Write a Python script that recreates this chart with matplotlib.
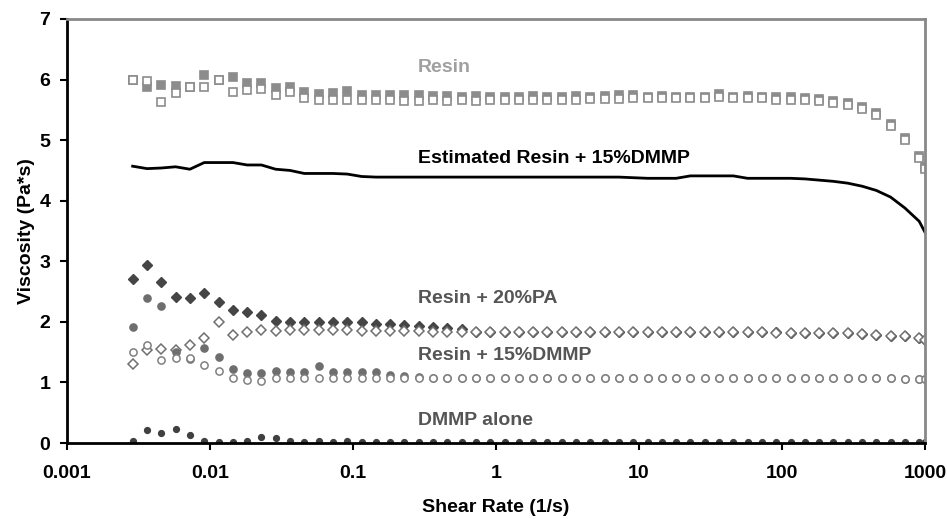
import matplotlib
matplotlib.use("Agg")
import matplotlib.pyplot as plt

plt.rcParams['font.family'] = ['Liberation Sans', 'DejaVu Sans']
plt.rcParams['font.weight'] = 'bold'

# shear rates (1/s), same sweep for every run
shear = [0.00288, 0.00363, 0.00457, 0.00575, 0.00724, 0.00912, 0.0115, 0.0145, 0.0182, 0.0229,
         0.0288, 0.0363, 0.0457, 0.0575, 0.0724, 0.0912, 0.115, 0.145, 0.182, 0.229,
         0.288, 0.363, 0.457, 0.575, 0.724, 0.912, 1.15, 1.45, 1.82, 2.29,
         2.88, 3.63, 4.57, 5.75, 7.24, 9.12, 11.5, 14.5, 18.2, 22.9,
         28.8, 36.3, 45.7, 57.5, 72.4, 91.2, 115, 145, 182, 229,
         288, 363, 457, 575, 724, 912, 1000]

# Resin, run 1 (filled) and run 2 (open)
resin_1 = [6.00, 5.87, 5.91, 5.90, 5.87, 6.07, 6.00, 6.04, 5.94, 5.94,
           5.86, 5.88, 5.80, 5.77, 5.78, 5.81, 5.74, 5.74, 5.74, 5.74,
           5.74, 5.73, 5.73, 5.72, 5.73, 5.72, 5.72, 5.72, 5.73, 5.72,
           5.72, 5.73, 5.72, 5.73, 5.74, 5.74, 5.72, 5.73, 5.72, 5.72,
           5.71, 5.76, 5.72, 5.73, 5.72, 5.71, 5.71, 5.70, 5.68, 5.65,
           5.62, 5.55, 5.44, 5.26, 5.04, 4.74, 4.56]
resin_2 = [6.00, 5.97, 5.63, 5.78, 5.87, 5.87, 6.00, 5.80, 5.83, 5.84,
           5.74, 5.80, 5.70, 5.66, 5.67, 5.67, 5.66, 5.66, 5.66, 5.64,
           5.65, 5.66, 5.65, 5.66, 5.65, 5.66, 5.66, 5.67, 5.66, 5.67,
           5.67, 5.67, 5.68, 5.68, 5.68, 5.69, 5.69, 5.69, 5.69, 5.70,
           5.69, 5.72, 5.69, 5.69, 5.69, 5.67, 5.67, 5.67, 5.65, 5.61,
           5.58, 5.51, 5.41, 5.23, 5.01, 4.70, 4.53]

# Estimated Resin + 15%DMMP
estimated = [4.57, 4.53, 4.54, 4.56, 4.52, 4.63, 4.63, 4.63, 4.59, 4.59,
             4.52, 4.50, 4.45, 4.45, 4.45, 4.44, 4.40, 4.39, 4.39, 4.39,
             4.39, 4.39, 4.39, 4.39, 4.39, 4.39, 4.39, 4.39, 4.39, 4.39,
             4.39, 4.39, 4.39, 4.39, 4.39, 4.38, 4.37, 4.37, 4.37, 4.41,
             4.41, 4.41, 4.41, 4.37, 4.37, 4.37, 4.37, 4.36, 4.34, 4.32,
             4.29, 4.24, 4.17, 4.06, 3.88, 3.66, 3.48]

# Resin + 20%PA
pa_1 = [2.70, 2.94, 2.65, 2.41, 2.39, 2.48, 2.32, 2.19, 2.17, 2.12,
        2.02, 2.00, 2.00, 2.00, 2.00, 1.99, 1.99, 1.97, 1.96, 1.95,
        1.93, 1.92, 1.90, 1.88, 1.84, 1.84, 1.84, 1.84, 1.84, 1.84,
        1.84, 1.84, 1.84, 1.84, 1.84, 1.84, 1.84, 1.83, 1.83, 1.83,
        1.83, 1.83, 1.84, 1.84, 1.84, 1.83, 1.82, 1.82, 1.82, 1.82,
        1.82, 1.80, 1.79, 1.77, 1.76, 1.74, 1.70]
pa_2 = [1.30, 1.53, 1.56, 1.53, 1.62, 1.73, 2.00, 1.78, 1.84, 1.86,
        1.85, 1.86, 1.86, 1.86, 1.86, 1.86, 1.85, 1.85, 1.85, 1.85,
        1.85, 1.84, 1.84, 1.84, 1.84, 1.84, 1.84, 1.84, 1.84, 1.84,
        1.84, 1.84, 1.84, 1.84, 1.84, 1.84, 1.84, 1.83, 1.83, 1.83,
        1.83, 1.83, 1.83, 1.83, 1.83, 1.82, 1.82, 1.82, 1.82, 1.82,
        1.82, 1.80, 1.79, 1.77, 1.76, 1.74, 1.70]

# Resin + 15%DMMP
dmmp15_1 = [1.91, 2.40, 2.26, 1.51, 1.38, 1.57, 1.42, 1.22, 1.16, 1.16,
            1.19, 1.18, 1.18, 1.27, 1.18, 1.17, 1.18, 1.17, 1.12, 1.10,
            1.09, 1.08, 1.08, 1.08, 1.08, 1.08, 1.08, 1.08, 1.08, 1.08,
            1.08, 1.08, 1.08, 1.08, 1.08, 1.07, 1.07, 1.07, 1.07, 1.07,
            1.07, 1.07, 1.07, 1.07, 1.07, 1.07, 1.07, 1.07, 1.07, 1.07,
            1.07, 1.07, 1.07, 1.07, 1.06, 1.06, 1.06]
dmmp15_2 = [1.51, 1.62, 1.37, 1.41, 1.40, 1.29, 1.19, 1.07, 1.04, 1.03,
            1.07, 1.08, 1.07, 1.07, 1.08, 1.07, 1.08, 1.08, 1.08, 1.08,
            1.08, 1.08, 1.08, 1.08, 1.08, 1.08, 1.08, 1.08, 1.08, 1.08,
            1.08, 1.08, 1.08, 1.08, 1.08, 1.07, 1.07, 1.07, 1.07, 1.07,
            1.07, 1.07, 1.07, 1.07, 1.07, 1.07, 1.07, 1.07, 1.07, 1.07,
            1.07, 1.07, 1.07, 1.07, 1.06, 1.06, 1.06]

# DMMP alone
dmmp = [0.04, 0.21, 0.16, 0.23, 0.13, 0.04, 0.01, 0.02, 0.04, 0.10,
        0.08, 0.03, 0.01, 0.03, 0.01, 0.03, 0.01, 0.02, 0.01, 0.02,
        0.01, 0.02, 0.01, 0.02, 0.01, 0.02, 0.01, 0.02, 0.01, 0.02,
        0.01, 0.02, 0.01, 0.02, 0.01, 0.02, 0.01, 0.02, 0.01, 0.02,
        0.01, 0.02, 0.01, 0.02, 0.01, 0.02, 0.01, 0.02, 0.01, 0.02,
        0.01, 0.02, 0.01, 0.02, 0.01, 0.02, 0.01]

xticks = [0.001, 0.01, 0.1, 1, 10, 100, 1000]
xtick_labels = ['0.001', '0.01', '0.1', '1', '10', '100', '1000']

fig = plt.figure(figsize=(9.47, 5.19), dpi=100)
ax = fig.add_axes([0.0707, 0.1464, 0.906, 0.817])

grey = '#8c8c8c'
ax.plot(shear, resin_1, 's', ms=5.8, mfc=grey, mec=grey, mew=1.2, ls='none')
ax.plot(shear, resin_2, 's', ms=5.8, mfc='white', mec=grey, mew=1.2, ls='none')

ax.plot(shear, estimated, '-', color='black', lw=2)

ax.plot(shear, pa_1, 'D', ms=4.8, mfc='#454545', mec='#454545', ls='none')
ax.plot(shear, pa_2, 'D', ms=4.8, mfc='white', mec='#707070', mew=1.1, ls='none')

ax.plot(shear, dmmp15_1, 'o', ms=5.2, mfc='#6e6e6e', mec='#6e6e6e', ls='none')
ax.plot(shear, dmmp15_2, 'o', ms=5.2, mfc='white', mec='#808080', mew=1.1, ls='none')

ax.plot(shear, dmmp, 'o', ms=4.2, mfc='#404040', mec='#404040', ls='none')

ax.set_xscale('log')
ax.set_xlim(0.001, 1000)
ax.set_ylim(0, 7)
ax.set_xticks(xticks)
ax.set_xticklabels(xtick_labels)
ax.minorticks_off()
ax.set_yticks(range(8))

ax.tick_params(axis='both', labelsize=14, length=5, width=1.5, direction='out')
ax.tick_params(axis='x', pad=11)
ax.tick_params(axis='y', pad=7)
for lab in ax.get_xticklabels() + ax.get_yticklabels():
    lab.set_fontweight('bold')

ax.spines['left'].set_linewidth(2)
ax.spines['bottom'].set_linewidth(2)
ax.spines['top'].set_color('#888888')
ax.spines['right'].set_color('#888888')
ax.spines['top'].set_linewidth(2)
ax.spines['right'].set_linewidth(2)

ax.set_xlabel('Shear Rate (1/s)', fontsize=14, fontweight='bold', labelpad=12)
ax.set_ylabel('Viscosity (Pa*s)', fontsize=14, fontweight='bold', labelpad=3)

ax.text(0.285, 6.20, 'Resin', color='#a0a0a0', fontsize=14, fontweight='bold', va='center')
ax.text(0.285, 4.70, 'Estimated Resin + 15%DMMP', color='black', fontsize=14, fontweight='bold', va='center')
ax.text(0.285, 2.39, 'Resin + 20%PA', color='#555555', fontsize=14, fontweight='bold', va='center')
ax.text(0.285, 1.44, 'Resin + 15%DMMP', color='#555555', fontsize=14, fontweight='bold', va='center')
ax.text(0.285, 0.38, 'DMMP alone', color='#555555', fontsize=14, fontweight='bold', va='center')

fig.savefig('out.png', dpi=100)
